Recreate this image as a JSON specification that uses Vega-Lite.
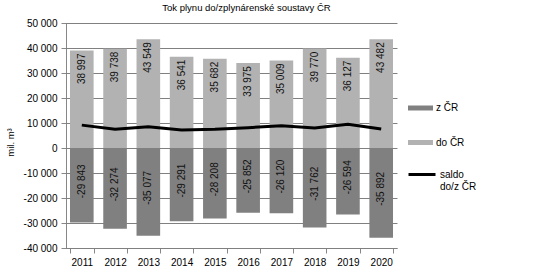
{
  "$schema": "https://vega.github.io/schema/vega-lite/v6.json",
  "autosize": {"type": "none"},
  "padding": {"left": 66, "top": 23, "right": 154, "bottom": 24},
  "width": 331,
  "height": 225,
  "background": "white",
  "title": {"text": "Tok plynu do/zplynárenské soustavy ČR", "fontSize": 9.5, "fontWeight": "normal", "font": "Liberation Sans", "color": "#000000", "anchor": "middle", "dx": 15, "offset": 6},
  "config": {
    "view": {"stroke": "transparent"},
    "locale": {"number": {"decimal": ",", "thousands": "\u00a0", "grouping": [3], "currency": ["", " Kč"], "minus": "-"}},
    "font": "Liberation Sans",
    "axis": {"labelFont": "Liberation Sans", "labelFontSize": 10, "labelColor": "#000000", "titleFont": "Liberation Sans", "titleFontSize": 9.5, "titleFontWeight": "normal", "titleColor": "#000000", "domainColor": "#878787", "tickColor": "#878787", "gridColor": "#878787"},
    "legend": {"labelFont": "Liberation Sans", "labelFontSize": 10, "labelColor": "#000000"}
  },
  "datasets": {
    "tok": [
      {"rok": "2011", "serie": "do ČR", "hodnota": 38997},
      {"rok": "2012", "serie": "do ČR", "hodnota": 39738},
      {"rok": "2013", "serie": "do ČR", "hodnota": 43549},
      {"rok": "2014", "serie": "do ČR", "hodnota": 36541},
      {"rok": "2015", "serie": "do ČR", "hodnota": 35682},
      {"rok": "2016", "serie": "do ČR", "hodnota": 33975},
      {"rok": "2017", "serie": "do ČR", "hodnota": 35009},
      {"rok": "2018", "serie": "do ČR", "hodnota": 39770},
      {"rok": "2019", "serie": "do ČR", "hodnota": 36127},
      {"rok": "2020", "serie": "do ČR", "hodnota": 43482},
      {"rok": "2011", "serie": "z ČR", "hodnota": -29843},
      {"rok": "2012", "serie": "z ČR", "hodnota": -32274},
      {"rok": "2013", "serie": "z ČR", "hodnota": -35077},
      {"rok": "2014", "serie": "z ČR", "hodnota": -29291},
      {"rok": "2015", "serie": "z ČR", "hodnota": -28208},
      {"rok": "2016", "serie": "z ČR", "hodnota": -25852},
      {"rok": "2017", "serie": "z ČR", "hodnota": -26120},
      {"rok": "2018", "serie": "z ČR", "hodnota": -31762},
      {"rok": "2019", "serie": "z ČR", "hodnota": -26594},
      {"rok": "2020", "serie": "z ČR", "hodnota": -35892},
      {"rok": "2011", "serie": "saldo do/z ČR", "hodnota": 9154},
      {"rok": "2012", "serie": "saldo do/z ČR", "hodnota": 7464},
      {"rok": "2013", "serie": "saldo do/z ČR", "hodnota": 8472},
      {"rok": "2014", "serie": "saldo do/z ČR", "hodnota": 7250},
      {"rok": "2015", "serie": "saldo do/z ČR", "hodnota": 7474},
      {"rok": "2016", "serie": "saldo do/z ČR", "hodnota": 8123},
      {"rok": "2017", "serie": "saldo do/z ČR", "hodnota": 8889},
      {"rok": "2018", "serie": "saldo do/z ČR", "hodnota": 8008},
      {"rok": "2019", "serie": "saldo do/z ČR", "hodnota": 9533},
      {"rok": "2020", "serie": "saldo do/z ČR", "hodnota": 7590}
    ],
    "mrizka": [
      {"hodnota": -40000}, {"hodnota": -30000}, {"hodnota": -20000}, {"hodnota": -10000}, {"hodnota": 0},
      {"hodnota": 10000}, {"hodnota": 20000}, {"hodnota": 30000}, {"hodnota": 40000}, {"hodnota": 50000}
    ]
  },
  "layer": [
    {
      "data": {"name": "mrizka"},
      "mark": {"type": "rule", "color": "#808080", "strokeWidth": 1, "opacity": 1, "yOffset": 0.5},
      "encoding": {
        "y": {"field": "hodnota", "type": "quantitative", "title": "mil. m³", "scale": {"domain": [-40000, 50000], "nice": false}}
      }
    },
    {
      "data": {"name": "tok"},
      "transform": [{"filter": "datum.serie !== 'saldo do/z ČR'"}],
      "mark": {"type": "bar"},
      "encoding": {
        "x": {"field": "rok", "type": "nominal", "sort": null, "title": null,
          "scale": {"paddingInner": 0.29, "paddingOuter": 0.12},
          "axis": {"labelAngle": 0, "tickBand": "extent", "tickSize": 5, "labelPadding": 4, "domainColor": "#878787", "grid": false}},
        "y": {"field": "hodnota", "type": "quantitative", "stack": null, "title": "mil. m³",
          "scale": {"domain": [-40000, 50000], "nice": false},
          "axis": {"tickCount": 9, "labelExpr": "format(datum.value, ',')", "grid": true, "gridColor": "#878787", "gridOpacity": 1, "gridWidth": 1, "tickSize": 5, "labelPadding": 4, "titleAngle": -90, "titleX": -56, "titleY": 119, "titleAlign": "center", "titleBaseline": "middle"}},
        "color": {"field": "serie", "type": "nominal",
          "scale": {"domain": ["z ČR", "do ČR"], "range": ["#808080", "#b2b2b2"]},
          "legend": {"title": null, "orient": "none", "legendX": 342, "legendY": 72.5, "labelOffset": 3, "rowPadding": 16.5, "symbolSize": 625, "symbolType": "M-1,-0.2H1V0.2H-1Z", "symbolStrokeWidth": 0}}
      }
    },
    {
      "data": {"name": "tok"},
      "transform": [{"filter": "datum.serie === 'do ČR'"}],
      "mark": {"type": "text", "angle": 270, "align": "right", "baseline": "middle", "dx": -3, "fontSize": 10, "font": "Liberation Sans", "color": "#111111"},
      "encoding": {
        "x": {"field": "rok", "type": "nominal", "sort": null},
        "y": {"field": "hodnota", "type": "quantitative", "title": "mil. m³"},
        "text": {"field": "hodnota", "type": "quantitative", "format": ","}
      }
    },
    {
      "data": {"name": "tok"},
      "transform": [{"filter": "datum.serie === 'saldo do/z ČR'"}],
      "mark": {"type": "line", "strokeWidth": 3},
      "encoding": {
        "x": {"field": "rok", "type": "nominal", "sort": null},
        "y": {"field": "hodnota", "type": "quantitative", "title": "mil. m³"},
        "stroke": {"field": "serie", "type": "nominal",
          "scale": {"domain": ["saldo do/z ČR"], "range": ["#000000"]},
          "legend": {"title": null, "orient": "none", "legendX": 341, "legendY": 136.5, "labelOffset": 3, "symbolType": "stroke", "symbolSize": 729, "symbolStrokeWidth": 3,
            "labelExpr": "['saldo', 'do/z ČR']"}}
      }
    },
    {
      "data": {"name": "tok"},
      "transform": [{"filter": "datum.serie === 'z ČR'"}],
      "mark": {"type": "text", "angle": 270, "align": "center", "baseline": "middle", "fontSize": 10, "font": "Liberation Sans", "color": "#111111",
        "dx": {"expr": "(scale('y', datum.hodnota) - scale('y', 0)) / 2 + 4"}},
      "encoding": {
        "x": {"field": "rok", "type": "nominal", "sort": null},
        "y": {"field": "hodnota", "type": "quantitative", "title": "mil. m³"},
        "text": {"field": "hodnota", "type": "quantitative", "format": ","}
      }
    }
  ]
}
